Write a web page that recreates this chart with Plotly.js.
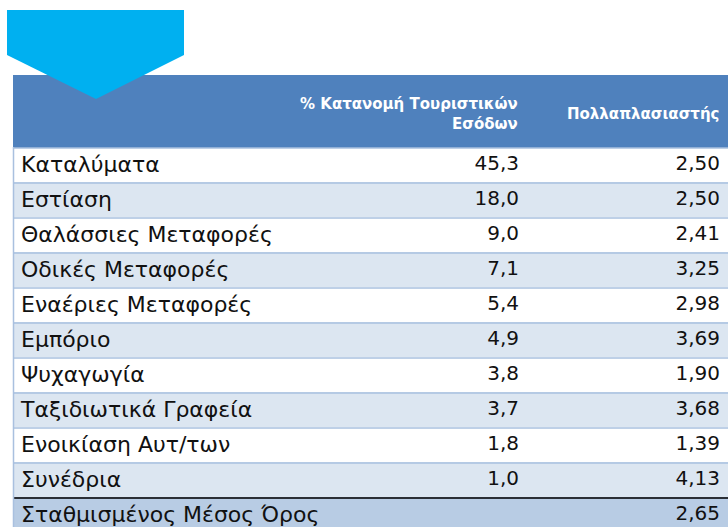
<!DOCTYPE html>
<html>
<head>
<meta charset="utf-8">
<script src="https://cdn.plot.ly/plotly-3.0.1.min.js"></script>
<style>html,body{margin:0;padding:0;overflow:hidden;background:#fff;}#chart{width:728px;height:545px;}</style>
</head>
<body>
<div id="chart"></div>
<script>
const headers = ["", "% Κατανομή Τουριστικών<br>Εσόδων", "Πολλαπλασιαστής"];
const sectors = ["Καταλύματα", "Εστίαση", "Θαλάσσιες Μεταφορές", "Οδικές Μεταφορές", "Εναέριες Μεταφορές", "Εμπόριο", "Ψυχαγωγία", "Ταξιδιωτικά Γραφεία", "Ενοικίαση Αυτ/των", "Συνέδρια", "Σταθμισμένος Μέσος Όρος"];
const share = ["45,3", "18,0", "9,0", "7,1", "5,4", "4,9", "3,8", "3,7", "1,8", "1,0", ""];
const multiplier = ["2,50", "2,50", "2,41", "3,25", "2,98", "3,69", "1,90", "3,68", "1,39", "4,13", "2,65"];

const W = 728, H = 545, TOP = 75, HEAD_H = 72, ROW_H = 35, LEFT = 13;
const COLW = [335, 179, 201];
const rowFill = sectors.map((s, i) => i === sectors.length - 1 ? "#B8CCE4" : (i % 2 === 0 ? "#FFFFFF" : "#DCE6F1"));
const px = v => v / W, py = v => 1 - v / H;

const trace = {
  type: "table",
  domain: {x: [px(LEFT), 1], y: [0, py(TOP)]},
  columnwidth: COLW,
  header: {
    values: ["", "", ""],
    height: HEAD_H,
    fill: {color: "#4F81BD"},
    line: {color: "#4F81BD", width: 1}
  },
  cells: {
    values: [sectors, share, multiplier],
    align: ["left", "right", "right"],
    height: ROW_H,
    fill: {color: [rowFill, rowFill, rowFill]},
    line: {color: [rowFill, rowFill, rowFill], width: 1},
    font: {
      family: "DejaVu Sans, Verdana, sans-serif",
      size: [22, 20, 20],
      color: "#111111"
    }
  }
};

// header labels placed at the right edge of their column
const colRight = [];
let acc = LEFT;
COLW.forEach(w => { acc += w; colRight.push(acc); });
const annotations = headers.map((h, i) => ({
  text: h, xref: "paper", yref: "paper",
  x: px(colRight[i] - 7), y: py(TOP + HEAD_H / 2 + 3),
  xanchor: "right", yanchor: "middle", align: "right", showarrow: false,
  font: {family: "DejaVu Sans, Verdana, sans-serif", size: 15, color: "#FFFFFF", weight: "bold"}
})).filter(a => a.text);

const shapes = [];
for (let i = 0; i < sectors.length; i++) {
  const y = py(TOP + HEAD_H + 1 + i * ROW_H);
  const last = i === sectors.length - 1;
  shapes.push({type: "line", xref: "paper", yref: "paper", x0: px(LEFT), x1: 1, y0: y, y1: y,
    line: {color: last ? "#2B2F36" : "#A9C0DF", width: last ? 2 : 1.5}});
}
shapes.push({type: "line", xref: "paper", yref: "paper", x0: px(LEFT + 0.5), x1: px(LEFT + 0.5), y0: py(TOP + HEAD_H), y1: 0,
  line: {color: "#A9C0DF", width: 1.5}});
shapes.push({type: "path", xref: "paper", yref: "paper",
  path: "M " + px(7) + "," + py(10) + " L " + px(184) + "," + py(10) + " L " + px(184) + "," + py(55) +
        " L " + px(96) + "," + py(99) + " L " + px(7) + "," + py(55) + " Z",
  fillcolor: "#00B0F0", line: {width: 0}});

const layout = {
  width: W, height: H,
  margin: {l: 0, r: 0, t: 0, b: 0},
  paper_bgcolor: "#FFFFFF",
  showlegend: false,
  shapes: shapes,
  annotations: annotations
};

Plotly.newPlot("chart", [trace], layout, {displayModeBar: false, staticPlot: true});
</script>
</body>
</html>
